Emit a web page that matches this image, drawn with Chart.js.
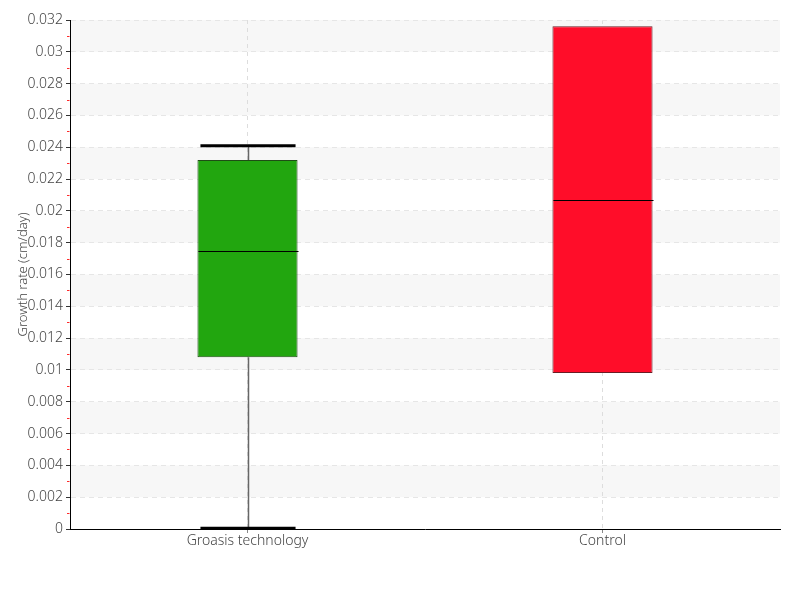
<!DOCTYPE html>
<html>
<head>
<meta charset="utf-8">
<script src="https://cdn.jsdelivr.net/npm/chart.js@4"></script>
<style>
  html, body { margin: 0; padding: 0; background: #fff; }
  #wrap { width: 800px; height: 600px; }
</style>
</head>
<body>
<div id="wrap"><canvas id="boxChart" width="800" height="600"></canvas></div>
<script>
const categories = ['Groasis technology', 'Control'];
const q1 = [0.0108, 0.0098];
const median = [0.0175, 0.0207];
const q3 = [0.0232, 0.0316];
const whiskerMin = [0.00005, 0.0098];
const whiskerMax = [0.0241, 0.0316];
const boxColors = ['#22a60f', '#ff0d29'];
const boxBorders = ['#1f4d16', '#6b1d24'];
const yTicks = [0, 0.002, 0.004, 0.006, 0.008, 0.01, 0.012, 0.014, 0.016,
  0.018, 0.02, 0.022, 0.024, 0.026, 0.028, 0.03, 0.032];

const FONT = "'Noto Sans', sans-serif";
const WEIGHT = '300 condensed';

// alternating bands + red minor ticks
const bandsPlugin = {
  id: 'bands',
  beforeDraw: (chart) => {
    const { ctx, chartArea, scales: { y } } = chart;
    ctx.save();
    ctx.fillStyle = '#f7f7f7';
    for (let i = 1; i < yTicks.length - 1; i += 2) {
      const top = y.getPixelForValue(yTicks[i + 1]);
      const bot = y.getPixelForValue(yTicks[i]);
      ctx.fillRect(chartArea.left, top, chartArea.right - chartArea.left, bot - top);
    }
    ctx.restore();
  },
  afterDraw: (chart) => {
    const { ctx, chartArea, scales: { y } } = chart;
    ctx.save();
    ctx.strokeStyle = '#ff2a2a';
    ctx.lineWidth = 1;
    for (let i = 0; i < yTicks.length - 1; i++) {
      const py = Math.round(y.getPixelForValue((yTicks[i] + yTicks[i + 1]) / 2)) + 0.5;
      ctx.beginPath();
      ctx.moveTo(chartArea.left - 3, py);
      ctx.lineTo(chartArea.left - 0.5, py);
      ctx.stroke();
    }
    ctx.restore();
  }
};

// whiskers, caps and median lines
const boxPlugin = {
  id: 'boxExtras',
  afterDatasetsDraw: (chart) => {
    const { ctx, scales: { x, y } } = chart;
    const meta = chart.getDatasetMeta(0);
    ctx.save();
    categories.forEach((c, i) => {
      const bar = meta.data[i];
      const cx = Math.round(x.getPixelForValue(i)) + 0.5;
      const half = bar.width / 2;
      ctx.strokeStyle = '#666';
      ctx.lineWidth = 1.5;
      if (whiskerMax[i] > q3[i]) {
        ctx.beginPath();
        ctx.moveTo(cx, y.getPixelForValue(q3[i]));
        ctx.lineTo(cx, y.getPixelForValue(whiskerMax[i]));
        ctx.stroke();
      }
      if (whiskerMin[i] < q1[i]) {
        ctx.beginPath();
        ctx.moveTo(cx, y.getPixelForValue(q1[i]));
        ctx.lineTo(cx, y.getPixelForValue(whiskerMin[i]));
        ctx.stroke();
      }
      ctx.strokeStyle = '#000';
      ctx.lineWidth = 3;
      if (whiskerMax[i] > q3[i]) {
        const py = y.getPixelForValue(whiskerMax[i]);
        ctx.beginPath();
        ctx.moveTo(cx - half + 2, py);
        ctx.lineTo(cx + half - 3, py);
        ctx.stroke();
      }
      if (whiskerMin[i] < q1[i]) {
        const py = y.getPixelForValue(whiskerMin[i]);
        ctx.beginPath();
        ctx.moveTo(cx - half + 2, py);
        ctx.lineTo(cx + half - 3, py);
        ctx.stroke();
      }
      ctx.lineWidth = 1;
      const my = Math.round(y.getPixelForValue(median[i])) + 0.5;
      ctx.beginPath();
      ctx.moveTo(cx - half, my);
      ctx.lineTo(cx + half, my);
      ctx.stroke();
    });
    ctx.restore();
  }
};

const config = {
  type: 'bar',
  data: {
    labels: categories,
    datasets: [{
      data: categories.map((c, i) => [q1[i], q3[i]]),
      backgroundColor: boxColors,
      borderColor: boxBorders,
      borderWidth: 1,
      borderSkipped: false,
      barPercentage: 0.282,
      categoryPercentage: 1
    }]
  },
  options: {
    responsive: false,
    animation: false,
    layout: { padding: { top: 20, right: 20, left: 0, bottom: 0 } },
    plugins: { legend: { display: false }, tooltip: { enabled: false } },
    scales: {
      x: {
        grid: {
          offset: false,
          color: '#dddddd',
          tickColor: '#888',
          tickLength: 4
        },
        border: { color: '#000', width: 1, dash: [4, 4] },
        ticks: { color: '#444', font: { family: FONT, size: 14, weight: WEIGHT }, padding: 0 },
        afterFit: (s) => { s.height = 71; }
      },
      y: {
        min: 0,
        max: 0.032,
        grid: {
          color: '#e6e6e6',
          tickColor: '#333',
          tickLength: 4,
          tickBorderDash: [],
        },
        border: { color: '#000', width: 1, dash: [5, 4] },
        ticks: {
          stepSize: 0.002,
          color: '#444',
          font: { family: FONT, size: 14, weight: WEIGHT },
          padding: 3,
          callback: (v) => String(+v.toFixed(3))
        },
        title: {
          display: true,
          text: 'Growth rate (cm/day)',
          color: '#444',
          font: { family: FONT, size: 13, weight: WEIGHT },
          padding: { top: 15, bottom: 0 }
        },
        afterFit: (s) => { s.width = 70; }
      }
    }
  },
  plugins: [bandsPlugin, boxPlugin]
};

new Chart(document.getElementById('boxChart').getContext('2d'), config);
</script>
</body>
</html>
